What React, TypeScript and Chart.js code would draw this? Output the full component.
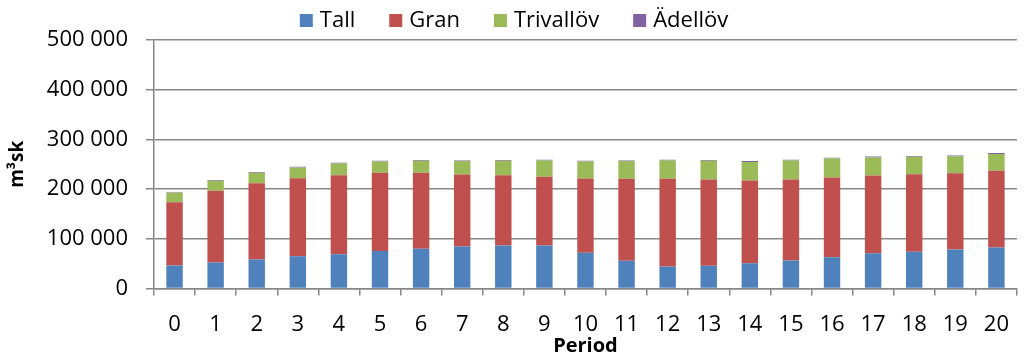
import React, { useEffect, useRef } from "react";
import { Chart, registerables } from "chart.js";

Chart.register(...registerables);

const periods = ["0","1","2","3","4","5","6","7","8","9","10","11","12","13","14","15","16","17","18","19","20"];
const tall = [46400, 52500, 58500, 65300, 69300, 75400, 80000, 84800, 86800, 86800, 72000, 55900, 44400, 45800, 51100, 56500, 63300, 71300, 74000, 78700, 82800];
const gran = [127200, 144500, 153500, 156700, 158700, 157500, 153000, 144700, 141200, 138000, 149400, 164800, 176300, 173600, 166300, 162900, 160100, 156200, 156000, 153300, 154200];
const trivallov = [19400, 20000, 21000, 21600, 23700, 22800, 24000, 26900, 29000, 33000, 34300, 35700, 37100, 37600, 37000, 38400, 38400, 36300, 35000, 33800, 33500];
const adellov = [1000, 1300, 1300, 1300, 1400, 1400, 1400, 1400, 1400, 1400, 1300, 1400, 1300, 1400, 2000, 1300, 1300, 2000, 1500, 2000, 2000];

const seriesNames = ["Tall", "Gran", "Trivallöv", "Ädellöv"];
const colors = ["#4F81BD", "#C0504D", "#9BBB59", "#8064A2"];
const yTicks = [0, 100000, 200000, 300000, 400000, 500000];

const FONT = "'Open Sans', 'Liberation Sans', sans-serif";

function fmt(v: number): string {
  return String(v).replace(/\B(?=(\d{3})+(?!\d))/g, " ");
}

const legendPlugin = {
  id: "customLegend",
  afterDraw(chart: any) {
    const ctx = chart.ctx;
    ctx.save();
    ctx.font = `22px ${FONT}`;
    ctx.textBaseline = "middle";
    const box = 13;
    const gap = 7;
    const spacing = 34;
    const items = chart.data.datasets.map((ds: any) => ({
      label: ds.label,
      color: ds.backgroundColor,
      w: box + gap + ctx.measureText(ds.label).width,
    }));
    const total = items.reduce((s: number, it: any) => s + it.w, 0) + spacing * (items.length - 1);
    let x = 514 - total / 2;
    const cy = 20;
    for (const it of items) {
      ctx.fillStyle = it.color;
      ctx.fillRect(x, cy - 6, box, 13);
      ctx.fillStyle = "#000";
      ctx.fillText(it.label, x + box + gap, cy + 1);
      x += it.w + spacing;
    }
    ctx.restore();
  },
};

export default function App() {
  const ref = useRef<HTMLCanvasElement | null>(null);
  useEffect(() => {
    document.body.style.margin = "0";
    const ctx = ref.current;
    if (!ctx) return;
    const data = [tall, gran, trivallov, adellov];
    const chart = new Chart(ctx, {
      type: "bar",
      data: {
        labels: periods,
        datasets: seriesNames.map((name, i) => ({
          label: name,
          data: data[i],
          backgroundColor: colors[i],
          borderWidth: 0,
          categoryPercentage: 1,
          barPercentage: 0.4,
        })),
      },
      plugins: [legendPlugin],
      options: {
        animation: false,
        responsive: false,
        maintainAspectRatio: false,
        layout: { padding: { left: 2, right: 1, top: 40, bottom: 2 } },
        plugins: {
          tooltip: { enabled: false },
          legend: { display: false },
        },
        scales: {
          x: {
            stacked: true,
            grid: { drawOnChartArea: false, drawTicks: true, tickLength: 7, color: "#888", lineWidth: 1.5, offset: true },
            border: { color: "#888", width: 1.5 },
            ticks: { color: "#000", font: { family: FONT, size: 22 }, padding: 16, maxRotation: 0, autoSkip: false },
            title: { display: true, text: "Period", color: "#000", font: { family: FONT, size: 20, weight: "bold" }, padding: { top: -20, bottom: 0 } },
          },
          y: {
            stacked: true,
            min: 0,
            max: 500000,
            afterBuildTicks: (axis: any) => { axis.ticks = yTicks.map((v) => ({ value: v })); },
            grid: { color: "#888", lineWidth: 1.5, tickLength: 8 },
            border: { color: "#888", width: 1.5 },
            ticks: { color: "#000", font: { family: FONT, size: 22 }, padding: 18, callback: (v: any) => fmt(Number(v)) },
            title: { display: true, text: "m³sk", color: "#000", font: { family: FONT, size: 19, weight: "bold" }, padding: { top: 4, bottom: 0 } },
          },
        },
      },
    });
    return () => chart.destroy();
  }, []);
  return (
    <div style={{ width: 1025, height: 360 }}>
      <canvas ref={ref} width={1025} height={360} style={{ display: "block" }} />
    </div>
  );
}
